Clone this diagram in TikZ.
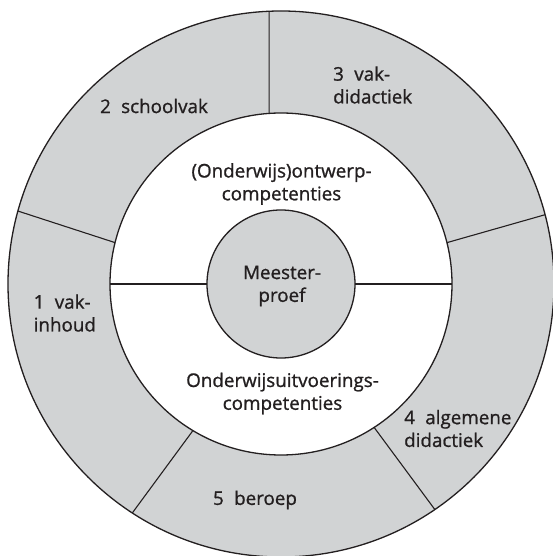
\documentclass[tikz,border=0pt]{standalone}
\usepackage{fontspec}
\setmainfont{Open Sans}[FakeBold=1]
\usetikzlibrary{positioning}
\definecolor{ringgray}{RGB}{209,211,212}
\definecolor{inkline}{RGB}{35,31,32}
\newcommand{\numsp}{\hspace{0.55em}}
\tikzset{%
  font=\fontsize{18.8}{22.8}\selectfont,
  ring/.style={draw=inkline,line width=1.3pt},
  divider/.style={draw=inkline,line width=1.1pt},
  lbl/.style={inner sep=0pt,align=center,text=inkline},
  lblw/.style={inner sep=0pt,align=left,anchor=west,text=inkline}
}
\begin{document}
\begin{tikzpicture}[x=1pt,y=1pt]
	\useasboundingbox (-281,-272) rectangle (271,284);
	\coordinate (c) at (0,0);
	% rings
	\filldraw[ring,fill=ringgray] (c) circle (273);
	\filldraw[ring,fill=white] (c) circle (171);
	\filldraw[ring,fill=ringgray] (c) circle (74);
	% spokes
	\foreach \ai/\ao in {94/92.5,166/164.5,239/237,303/304.3,14/14.7}
		\draw[divider] (\ai:171) -- (\ao:273);
	\draw[divider] (180:171) -- (180:74);
	\draw[divider] (0:74) -- (0:171);
	% labels
	\node[lbl] (schoolvak) at (-127,178) {2\numsp schoolvak};
	\node[lblw] (vakdid) at (52,199) {3\numsp vak-\\didactiek};
	\node[lblw] (vakinh) at (-247.5,-29) {1\numsp vak-\\inhoud};
	\node[lblw] (algdid) at (123,-144.5) {4\numsp algemene\\didactiek};
	\node[lbl] (beroep) at (-26,-216) {5\numsp beroep};
	\node[lbl] (ontwerp) at (0.5,100) {(Onderwijs)ontwerp-\\competenties};
	\node[lbl] (uitvoer) at (1.5,-109.5) {Onderwijsuitvoerings-\\competenties};
	\node[lbl] (proef) at (1,-2) {Meester-\\proef};
\end{tikzpicture}
\end{document}
